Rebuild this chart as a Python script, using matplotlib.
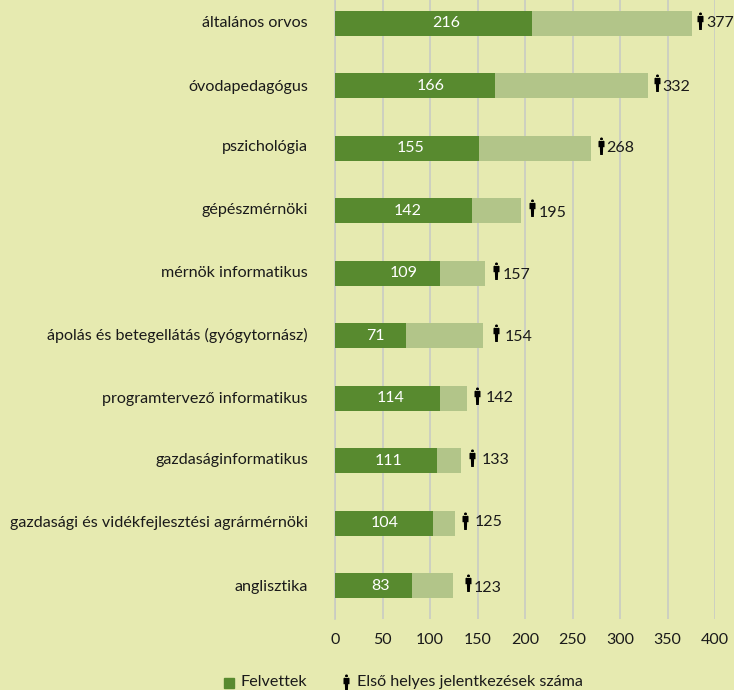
"""Felvettek es elso helyes jelentkezesek, vizszintes oszlopok."""
import matplotlib
matplotlib.use("Agg")
import matplotlib.patches as mpatches
import matplotlib.path as mpath
import matplotlib.pyplot as plt

plt.rcParams["font.family"] = ["Lato", "DejaVu Sans"]

CATEGORIES = [
    "általános orvos", "óvodapedagógus", "pszichológia", "gépészmérnöki",
    "mérnök informatikus", "ápolás és betegellátás (gyógytornász)",
    "programtervező informatikus", "gazdaságinformatikus",
    "gazdasági és vidékfejlesztési agrármérnöki", "anglisztika",
]
ADMITTED = [216, 166, 155, 142, 109, 71, 114, 111, 104, 83]
FIRST_CHOICE = [377, 332, 268, 195, 157, 154, 142, 133, 125, 123]
# bar lengths as drawn differ a bit from the printed labels
ADMITTED_DRAWN = [207, 168, 152, 144, 110, 75, 110, 107, 103, 81]
FIRST_CHOICE_DRAWN = [376, 329, 269, 196, 158, 156, 139, 133, 126, 124]
XTICKS = [0, 50, 100, 150, 200, 250, 300, 350, 400]

# label placement in the original is hand adjusted (pixels)
VALUE_LABEL_X = [111, 96, 76, 73, 69, 40, 56, 54, 50, 46]
ICON_GAP = [8, 9, 10, 11, 11, 13, 10, 11, 10, 15]
NUMBER_GAP = [14, 15, 16, 17, 18, 21, 19, 20, 20, 21]
CAT_DY = [0, 1, -1, -1, 0, 0, 1, -1, 0, 1]
NUM_DY = [0, 1, 0, 2, 2, 1, 0, -1, -1, 2]

BG_COLOR = "#e6eab0"
DARK = "#588a2f"
LIGHT = "#b2c589"
GRID = "#c9cbc4"
TEXT = "#1a1a1a"

# small standing figure used as marker
body = mpath.Path([(-0.17, 0.42), (0.17, 0.42), (0.22, 0.38), (0.22, -0.05), (0.12, -0.05),
                   (0.1, -0.62), (-0.1, -0.62), (-0.12, -0.05), (-0.22, -0.05), (-0.22, 0.38),
                   (-0.17, 0.42)], closed=True)
head = mpath.Path.circle((0, 0.55), 0.11)
PERSON = mpath.Path.make_compound_path(head, body)

W, H = 734, 690
fig = plt.figure(figsize=(W / 100, H / 100), dpi=100, facecolor=BG_COLOR)
ax = fig.add_axes([335 / W, 1 - 619 / H, 380 / W, 619 / H])
ax.set_facecolor(BG_COLOR)

y = list(range(len(CATEGORIES)))
ax.barh(y, FIRST_CHOICE_DRAWN, height=0.4, color=LIGHT, zorder=2)
ax.barh(y, ADMITTED_DRAWN, height=0.4, color=DARK, zorder=3)

px = 0.72  # points per pixel at dpi 100
for i, cat in enumerate(CATEGORIES):
    ax.annotate(cat, (0, i), xytext=(-27 * px, -CAT_DY[i] * px), textcoords="offset points",
                ha="right", va="center", fontsize=11.65, color=TEXT, annotation_clip=False)
    ax.annotate(str(ADMITTED[i]), (0, i), xytext=(VALUE_LABEL_X[i] * px, 0), textcoords="offset points",
                ha="center", va="center", fontsize=11.5, color="white", zorder=4)
    ax.annotate(str(FIRST_CHOICE[i]), (FIRST_CHOICE_DRAWN[i], i),
                xytext=(NUMBER_GAP[i] * px, -NUM_DY[i] * px), textcoords="offset points",
                ha="left", va="center", fontsize=11.5, color=TEXT, zorder=4, annotation_clip=False)
    icon_x = FIRST_CHOICE_DRAWN[i] + ICON_GAP[i] / 0.95
    ax.plot([icon_x], [i - 0.04], marker=PERSON, ms=13, mew=0, color="black", zorder=4, clip_on=False)

ax.set_xlim(0, 400)
ax.set_ylim(9.534, -0.37)
ax.set_xticks(XTICKS)
ax.xaxis.grid(True, color=GRID, lw=1.2, zorder=1)
ax.set_axisbelow(True)
ax.set_yticks([])
ax.tick_params(axis="x", length=0, labelsize=11.5, pad=10, colors=TEXT)
for s in ax.spines.values():
    s.set_visible(False)
ax.spines["left"].set_visible(True)
ax.spines["left"].set_color(GRID)
ax.spines["left"].set_linewidth(1.2)

fig.patches.append(mpatches.Rectangle((224 / W, 1 - 688 / H), 10 / W, 10 / H,
                                      transform=fig.transFigure, color=DARK))
fig.text(240 / W, 1 - 682 / H, "Felvettek", fontsize=11.65, va="center", color=TEXT)
fig.text(357 / W, 1 - 682 / H, "Első helyes jelentkezések száma", fontsize=11.65, va="center", color=TEXT)
ax.plot([346 / W], [1 - 683 / H], marker=PERSON, ms=13, mew=0, color="black",
        transform=fig.transFigure, clip_on=False)

fig.savefig("out.png", dpi=100, facecolor=BG_COLOR)
plt.close(fig)
